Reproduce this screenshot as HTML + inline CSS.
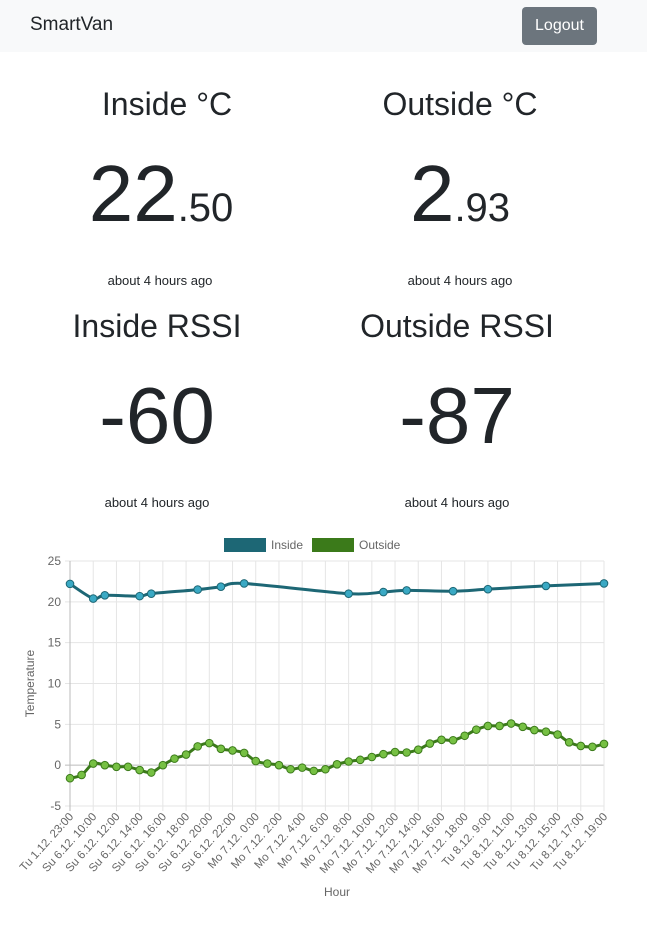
<!DOCTYPE html>
<html><head><meta charset="utf-8">
<style>
body{margin:0;width:647px;height:934px;background:#fff;font-family:"Liberation Sans",sans-serif;color:#212529;position:relative;overflow:hidden}
.nav{position:absolute;left:0;top:0;width:647px;height:52px;background:#f8f9fa}
.brand{position:absolute;left:30px;top:14px;font-size:19px}
.btn{position:absolute;left:522px;top:7px;width:75px;height:38px;background:#6c757d;color:#fff;border-radius:4px;font-size:16px;line-height:38px;text-align:center}
.c{position:absolute;text-align:center;width:300px;white-space:nowrap}
.h{font-size:32px}
.big{font-size:80px}
.big small{font-size:40px}
.ago{font-size:13px}
</style></head><body>
<div class="nav">
<div class="brand">SmartVan</div>
<div class="btn">Logout</div>
</div>
<div class="c h" style="left:17px;top:86px">Inside °C</div>
<div class="c big" style="left:11px;top:148px">22<small>.50</small></div>
<div class="c ago" style="left:10px;top:273px">about 4 hours ago</div>
<div class="c h" style="left:310px;top:86px">Outside °C</div>
<div class="c big" style="left:310px;top:148px">2<small>.93</small></div>
<div class="c ago" style="left:310px;top:273px">about 4 hours ago</div>
<div class="c h" style="left:7px;top:308px">Inside RSSI</div>
<div class="c big" style="left:7px;top:370px">-60</div>
<div class="c ago" style="left:7px;top:495px">about 4 hours ago</div>
<div class="c h" style="left:307px;top:308px">Outside RSSI</div>
<div class="c big" style="left:307px;top:370px">-87</div>
<div class="c ago" style="left:307px;top:495px">about 4 hours ago</div>
<svg id="chart" width="647" height="400" style="position:absolute;left:0;top:520px"></svg>
<script>
const labels=["Tu 1.12. 23:00","Su 6.12. 10:00","Su 6.12. 12:00","Su 6.12. 14:00","Su 6.12. 16:00","Su 6.12. 18:00","Su 6.12. 20:00","Su 6.12. 22:00","Mo 7.12. 0:00","Mo 7.12. 2:00","Mo 7.12. 4:00","Mo 7.12. 6:00","Mo 7.12. 8:00","Mo 7.12. 10:00","Mo 7.12. 12:00","Mo 7.12. 14:00","Mo 7.12. 16:00","Mo 7.12. 18:00","Tu 8.12. 9:00","Tu 8.12. 11:00","Tu 8.12. 13:00","Tu 8.12. 15:00","Tu 8.12. 17:00","Tu 8.12. 19:00"];
const outside=[-1.6,-1.2,0.2,0,-0.2,-0.2,-0.6,-0.9,0,0.8,1.3,2.3,2.7,2.0,1.8,1.5,0.5,0.2,0,-0.5,-0.3,-0.7,-0.5,0.1,0.45,0.65,1.0,1.35,1.6,1.55,1.9,2.65,3.1,3.05,3.6,4.35,4.8,4.8,5.1,4.7,4.3,4.1,3.75,2.8,2.35,2.25,2.6];
const insideIdx=[0,2,3,6,7,11,13,15,24,27,29,33,36,41,46];
const insideVal=[22.2,20.4,20.8,20.7,21.0,21.5,21.85,22.25,21.0,21.2,21.4,21.3,21.55,21.95,22.25];
const yTicks=[25,20,15,10,5,0,-5];
const NS="http://www.w3.org/2000/svg",svg=document.getElementById("chart");
const X0=70,X1=604,Y0=41,Y1=286,N=outside.length;
const xs=i=>X0+i*(X1-X0)/(N-1), ys=v=>Y0+(25-v)*(Y1-Y0)/30;
function el(t,a,p){const e=document.createElementNS(NS,t);for(const k in a)e.setAttribute(k,a[k]);(p||svg).appendChild(e);return e;}
for(const t of yTicks){const g=el("line",{x1:X0-5,x2:X1,y1:ys(t),y2:ys(t),stroke:t===0?"#bbb":"#e5e5e5"});


const tx=el("text",{x:X0-9,y:ys(t)+4,"text-anchor":"end","font-size":12,fill:"#666"});tx.textContent=t;

}
labels.forEach((l,k)=>{const x=xs(k*2);const g=el("line",{x1:x,x2:x,y1:Y0,y2:Y1+5,stroke:k===0?"#bbb":"#e5e5e5"});


const t=el("text",{x:x+4,y:Y1+11,"text-anchor":"end","font-size":11.5,fill:"#666",transform:`rotate(-48 ${x+4} ${Y1+11})`});t.textContent=l;

});
const yt=el("text",{x:34,y:(Y0+Y1)/2,"text-anchor":"middle","font-size":12,fill:"#666",transform:`rotate(-90 34 ${(Y0+Y1)/2})`});yt.textContent="Temperature";


const xt=el("text",{x:337,y:376,"text-anchor":"middle","font-size":12,fill:"#666"});xt.textContent="Hour";


function path(pts,ten){let d=`M${pts[0][0]},${pts[0][1]}`;for(let i=0;i<pts.length-1;i++){const p0=pts[i-1]||pts[i],p1=pts[i],p2=pts[i+1],p3=pts[i+2]||p2;
d+=` C${p1[0]+(p2[0]-p0[0])*ten},${p1[1]+(p2[1]-p0[1])*ten} ${p2[0]-(p3[0]-p1[0])*ten},${p2[1]-(p3[1]-p1[1])*ten} ${p2[0]},${p2[1]}`;}return d;}
function series(pts,line,fill,name){const p=el("path",{d:path(pts,0.15),fill:"none",stroke:line,"stroke-width":3});


pts.forEach(q=>{const c=el("circle",{cx:q[0],cy:q[1],r:3.8,fill:fill,stroke:line,"stroke-width":1});

});}
series(insideIdx.map((i,k)=>[xs(i),ys(insideVal[k])]),"#1d6775","#3aa9c4","inside");
series(outside.map((v,i)=>[xs(i),ys(v)]),"#3b7a1a","#76c043","outside");
const lg=[["Inside","#1d6775",224],["Outside","#3b7a1a",312]];
lg.forEach(([n,c,x])=>{const r=el("rect",{x:x,y:18,width:42,height:14,fill:c});


const t=el("text",{x:x+47,y:29,"font-size":12,fill:"#666"});t.textContent=n;

});
</script>
</body></html>
